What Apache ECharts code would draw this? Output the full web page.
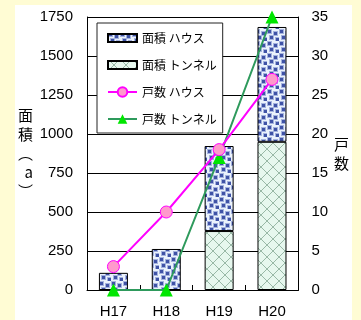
<!DOCTYPE html>
<html lang="ja">
<head>
<meta charset="utf-8">
<title>面積・戸数</title>
<script src="https://cdn.jsdelivr.net/npm/echarts@6/dist/echarts.min.js"></script>
<style>
  html, body { margin: 0; padding: 0; background: #fffcd4; }
  #chart { position: absolute; left: 15px; top: 5px; width: 337px; height: 315px; background: #ffffff; }
</style>
</head>
<body>
<div id="chart"></div>
<script>
// データ
var years = ['H17', 'H18', 'H19', 'H20'];
var areaHouse = [110, 263, 545, 736];     // 面積 ハウス (a)
var areaTunnel = [0, 0, 378, 950];        // 面積 トンネル (a)
var countHouse = [3, 10, 18, 27];         // 戸数 ハウス
var countTunnel = [0, 0, 17, 35];         // 戸数 トンネル

var FONT = '"Liberation Sans", "Noto Sans CJK JP", sans-serif';
var CJK = '"Noto Sans CJK JP", sans-serif';

// 水玉模様
function dotPattern() {
  var c = document.createElement('canvas');
  c.width = 12; c.height = 12;
  var g = c.getContext('2d');
  g.fillStyle = '#ebf2fc';
  g.fillRect(0, 0, 12, 12);
  var pts = [[1, 1], [7, 3], [3, 7], [9, 9]];
  pts.forEach(function (p) {
    g.fillStyle = '#a4b2de';
    g.fillRect(p[0] - 1, p[1] - 1, 5, 5);
    g.fillStyle = '#3f52a6';
    g.fillRect(p[0], p[1], 3, 3);
  });
  return { image: c, repeat: 'repeat' };
}

// 格子模様
function hatchPattern() {
  var c = document.createElement('canvas');
  c.width = 12; c.height = 12;
  var g = c.getContext('2d');
  g.fillStyle = '#e6f7ee';
  g.fillRect(0, 0, 12, 12);
  g.strokeStyle = '#98b8a6';
  g.lineWidth = 1;
  g.beginPath();
  g.moveTo(0, 0); g.lineTo(12, 12);
  g.moveTo(12, 0); g.lineTo(0, 12);
  g.stroke();
  return { image: c, repeat: 'repeat' };
}

function plain(v) { return String(v); }

var chart = echarts.init(document.getElementById('chart'));

var option = {
  animation: false,
  textStyle: { fontFamily: FONT, color: '#000' },
  grid: { left: 72, right: 53, top: 12, bottom: 30 },
  legend: {
    orient: 'vertical',
    left: 82,
    top: 18,
    padding: [9, 6, 8, 10],
    backgroundColor: '#fff',
    borderColor: '#222',
    borderWidth: 1,
    itemWidth: 29,
    itemHeight: 12,
    itemGap: 15,
    textStyle: { fontSize: 12, fontFamily: CJK, color: '#000' },
    data: [
      { name: '面積 ハウス', icon: 'path://M0,0h29v8h-29z' },
      { name: '面積 トンネル', icon: 'path://M0,0h29v8h-29z' },
      '戸数 ハウス',
      '戸数 トンネル'
    ]
  },
  xAxis: {
    type: 'category',
    data: years,
    axisLine: { lineStyle: { color: '#000', width: 1 } },
    axisTick: { show: true, inside: true, length: 5, lineStyle: { color: '#000' } },
    axisLabel: { fontSize: 15, color: '#000', margin: 14, fontFamily: FONT }
  },
  yAxis: [{
    type: 'value',
    min: 0, max: 1750, interval: 250,
    name: '面\n積\n︵\na\n︶',
    nameLocation: 'middle',
    nameRotate: 0,
    nameGap: 54,
    nameTextStyle: { fontSize: 15, lineHeight: 19, color: '#000', fontFamily: CJK },
    axisLine: { show: true, lineStyle: { color: '#000' } },
    axisTick: { show: false },
    axisLabel: { fontSize: 15, color: '#000', margin: 14, fontFamily: FONT, formatter: plain },
    splitLine: { lineStyle: { color: '#000', width: 1 } }
  }, {
    type: 'value',
    min: 0, max: 35, interval: 5,
    name: '戸\n数',
    nameLocation: 'middle',
    nameRotate: 0,
    nameGap: 32,
    nameTextStyle: { fontSize: 15, lineHeight: 19, color: '#000', fontFamily: CJK },
    axisLine: { show: true, lineStyle: { color: '#000' } },
    axisTick: { show: false },
    axisLabel: { fontSize: 15, color: '#000', margin: 13, fontFamily: FONT, formatter: plain },
    splitLine: { show: false }
  }],
  series: [{
    name: '面積 トンネル',
    type: 'bar',
    stack: 'area',
    barWidth: 29,
    data: areaTunnel,
    itemStyle: { color: hatchPattern(), borderColor: '#000', borderWidth: 1 }
  }, {
    name: '面積 ハウス',
    type: 'bar',
    stack: 'area',
    barWidth: 29,
    data: areaHouse,
    itemStyle: { color: dotPattern(), borderColor: '#000', borderWidth: 1 }
  }, {
    name: '戸数 トンネル',
    type: 'line',
    yAxisIndex: 1,
    data: countTunnel,
    symbol: 'triangle',
    symbolSize: 13,
    lineStyle: { color: '#2e9a5c', width: 2 },
    itemStyle: { color: '#00e600', borderWidth: 0 },
    z: 3
  }, {
    name: '戸数 ハウス',
    type: 'line',
    yAxisIndex: 1,
    data: countHouse,
    symbol: 'circle',
    symbolSize: 12,
    lineStyle: { color: '#ff00ff', width: 2 },
    itemStyle: { color: '#ff99cc', borderColor: '#ff00ff', borderWidth: 1 },
    z: 4
  }]
};

chart.setOption(option);
</script>
</body>
</html>
